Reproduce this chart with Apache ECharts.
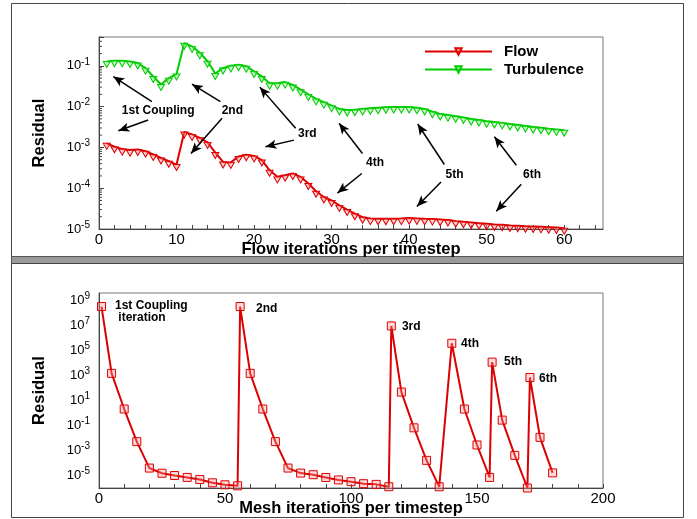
<!DOCTYPE html>
<html>
<head>
<meta charset="utf-8">
<title>Residual history</title>
<script src="https://cdn.jsdelivr.net/npm/echarts@6/dist/echarts.min.js"></script>
<style>
  html, body { margin: 0; padding: 0; background: #fff; }
  #chart { width: 697px; height: 519px; }
</style>
</head>
<body>
<div id="chart"></div>
<script>
// Flow iterations within one timestep (upper panel)
const flowIterations = [
  1, 2, 3, 4, 5, 6, 7, 8, 9, 10, 11, 12, 13, 14, 15, 16, 17, 18, 19, 20,
  21, 22, 23, 24, 25, 26, 27, 28, 29, 30, 31, 32, 33, 34, 35, 36, 37, 38, 39, 40,
  41, 42, 43, 44, 45, 46, 47, 48, 49, 50, 51, 52, 53, 54, 55, 56, 57, 58, 59, 60
];
const flowResidual = [
  1.26e-3, 1.04e-3, 9.1e-4, 8.6e-4, 8.9e-4, 8.1e-4, 6.7e-4, 5.5e-4, 4.6e-4, 3.8e-4,
  2.4e-3, 2.09e-3, 1.72e-3, 1.33e-3, 7.5e-4, 4.4e-4, 4.3e-4, 6.0e-4, 6.6e-4, 6.2e-4,
  4.9e-4, 2.75e-4, 1.9e-4, 2.09e-4, 2.3e-4, 1.9e-4, 1.3e-4, 8.4e-5, 6.1e-5, 5.0e-5,
  3.8e-5, 3.0e-5, 2.37e-5, 1.95e-5, 1.8e-5, 1.78e-5, 1.78e-5, 1.78e-5, 1.8e-5, 1.85e-5,
  1.82e-5, 1.78e-5, 1.75e-5, 1.71e-5, 1.66e-5, 1.56e-5, 1.5e-5, 1.45e-5, 1.39e-5, 1.34e-5,
  1.29e-5, 1.27e-5, 1.22e-5, 1.2e-5, 1.17e-5, 1.15e-5, 1.13e-5, 1.11e-5, 1.09e-5, 1.05e-5
];
const turbulenceResidual = [
  0.128, 0.133, 0.133, 0.128, 0.117, 0.088, 0.055, 0.035, 0.050, 0.063,
  0.36, 0.30, 0.21, 0.13, 0.065, 0.089, 0.10, 0.107, 0.098, 0.073,
  0.055, 0.0377, 0.0377, 0.040, 0.034, 0.026, 0.020, 0.0155, 0.0129, 0.0106,
  0.0088, 0.0083, 0.0084, 0.0088, 0.0091, 0.0094, 0.0097, 0.0098, 0.0098, 0.0098,
  0.0094, 0.0088, 0.0075, 0.0066, 0.0062, 0.0058, 0.0054, 0.0050, 0.0047, 0.0044,
  0.0042, 0.0040, 0.00375, 0.00355, 0.00335, 0.00316, 0.00304, 0.00288, 0.00277, 0.00263
];

// Mesh iterations over the six coupling iterations (lower panel)
const meshIterations = [
  1, 5, 10, 15, 20, 25, 30, 35, 40, 45, 50, 55,
  56, 60, 65, 70, 75, 80, 85, 90, 95, 100, 105, 110, 115,
  116, 120, 125, 130, 135,
  140, 145, 150, 155,
  156, 160, 165, 170,
  171, 175, 180
];
const meshResidual = [
  3e8, 1.4e3, 2, 5e-3, 3.9e-5, 1.5e-5, 1e-5, 7e-6, 4.8e-6, 2.6e-6, 1.8e-6, 1.5e-6,
  3e8, 1.4e3, 2, 5e-3, 3.9e-5, 1.55e-5, 1.15e-5, 6.9e-6, 4.4e-6, 3.2e-6, 2.2e-6, 1.95e-6, 1.26e-6,
  8.5e6, 45, 0.063, 1.6e-4, 1.25e-6,
  3.5e5, 2, 2.7e-3, 7e-6,
  1.1e4, 0.26, 4e-4, 1e-6,
  650, 0.011, 1.6e-5
];

// Callout labels in the upper panel: text and its centre [iteration, residual]
const upperNotes = ['1st Coupling', '2nd', '3rd', '4th', '5th', '6th'];
const upperNoteAt = [[7.63, 0.008], [17.2, 0.008], [26.87, 0.00213], [35.61, 4.27e-4], [45.86, 2.2e-4], [55.85, 2.2e-4]];
// Arrows from each label: [from, to] for the turbulence and flow curves
const upperArrows = [
  [[6.82, 0.0133], [1.85, 0.0548]], [[6.34, 0.0047], [2.5, 0.00256]],
  [[15.65, 0.0133], [11.99, 0.0356]], [[15.87, 0.00518], [11.86, 7.1e-4]],
  [[25.36, 0.00294], [20.74, 0.0301]], [[25.14, 0.00151], [21.47, 0.00104]],
  [[33.98, 7.1e-4], [30.96, 0.0039]], [[33.89, 2.29e-4], [30.75, 7.6e-5]],
  [[44.54, 3.81e-4], [41.1, 0.00375]], [[44.11, 1.42e-4], [41.0, 3.58e-5]],
  [[53.82, 3.66e-4], [51.0, 0.00182]], [[54.46, 1.25e-4], [51.23, 2.74e-5]]
];
// Labels beside the peaks in the lower panel (left edge, vertical centre)
const lowerNotes = ['1st Coupling\n iteration', '2nd', '3rd', '4th', '5th', '6th'];
const lowerNoteAt = [[6.35, 1.1e8], [62.3, 2.2e8], [120.2, 7.4e6], [143.7, 3.5e5], [160.7, 1.2e4], [174.6, 575]];

const FONT = '"Liberation Sans", Arial, Helvetica, sans-serif';
const RED = '#dd0000';
const GREEN = '#00cc00';
const AXIS = '#444';

function pow10Label(onlyOdd) {
  return function (v) {
    const e = Math.log10(v);
    const r = Math.round(e);
    if (Math.abs(e - r) > 1e-6) return '';
    if (onlyOdd && Math.abs(r % 2) !== 1) return '';
    return '{b|10}{s|' + r + '}';
  };
}
const powRich = {
  b: { fontSize: 13, lineHeight: 18, fontFamily: FONT, color: '#000', verticalAlign: 'middle' },
  s: { fontSize: 10, lineHeight: 10, fontFamily: FONT, color: '#000', verticalAlign: 'top' }
};

// Log minor ticks (2..9 in each decade) for the upper residual axis
const upperMinorTicks = [];
for (let d = -5; d <= -1; d++) {
  for (let m = 2; m <= 9; m++) {
    const v = m * Math.pow(10, d);
    if (v < 0.51) upperMinorTicks.push([0, v]);
  }
}

const chart = echarts.init(document.getElementById('chart'), null, { renderer: 'canvas' });

const axisNameStyle = { fontFamily: FONT, fontWeight: 'bold', fontSize: 16.5, color: '#000' };

chart.setOption({
  animation: false,
  backgroundColor: '#fff',
  textStyle: { fontFamily: FONT },
  graphic: [
    { type: 'rect', shape: { x: 11.5, y: 3.5, width: 672, height: 253 }, style: { fill: 'none', stroke: '#444', lineWidth: 1 }, silent: true },
    { type: 'rect', shape: { x: 11.5, y: 256.5, width: 672, height: 7 }, style: { fill: '#9a9a9a', stroke: '#555', lineWidth: 1 }, silent: true },
    { type: 'rect', shape: { x: 11.5, y: 263.5, width: 672, height: 254 }, style: { fill: 'none', stroke: '#444', lineWidth: 1 }, silent: true }
  ],
  legend: {
    data: ['Flow', 'Turbulence'],
    orient: 'vertical',
    left: 419,
    top: 39,
    itemWidth: 67,
    itemHeight: 8,
    itemGap: 3,
    textStyle: { fontFamily: FONT, fontWeight: 'bold', fontSize: 15, color: '#000', padding: [0, 0, 0, 7] },
    selectedMode: false
  },
  grid: [
    { left: 99, top: 37, width: 504, height: 192, show: true, borderColor: '#777', borderWidth: 1, backgroundColor: 'transparent' },
    { left: 99, top: 293, width: 504, height: 195, show: true, borderColor: '#777', borderWidth: 1, backgroundColor: 'transparent' }
  ],
  xAxis: [
    {
      gridIndex: 0, type: 'value', min: 0, max: 65, interval: 2,
      axisLine: { lineStyle: { color: AXIS, width: 1 } },
      axisTick: { inside: true, length: 4, lineStyle: { color: AXIS } },
      axisLabel: {
        margin: 3, fontSize: 15, color: '#000', fontFamily: FONT, showMaxLabel: false,
        formatter: v => (v % 10 === 0 ? String(v) : '')
      },
      splitLine: { show: false },
      name: 'Flow iterations per timestep', nameLocation: 'middle', nameGap: 12,
      nameMoveOverlap: false,
      nameTextStyle: axisNameStyle
    },
    {
      gridIndex: 1, type: 'value', min: 0, max: 200, interval: 10,
      axisLine: { lineStyle: { color: AXIS, width: 1 } },
      axisTick: { inside: true, length: 4, lineStyle: { color: AXIS } },
      axisLabel: {
        margin: 3, fontSize: 15, color: '#000', fontFamily: FONT,
        formatter: v => (v % 50 === 0 ? String(v) : '')
      },
      splitLine: { show: false },
      name: 'Mesh iterations per timestep', nameLocation: 'middle', nameGap: 12,
      nameMoveOverlap: false,
      nameTextStyle: axisNameStyle
    }
  ],
  yAxis: [
    {
      gridIndex: 0, type: 'log', logBase: 10, min: 1e-5, max: 0.51, interval: 1,
      axisLine: { show: true, lineStyle: { color: AXIS, width: 1 } },
      axisTick: { show: true, inside: true, length: 5, lineStyle: { color: AXIS } },
      axisLabel: { margin: 9, formatter: pow10Label(false), rich: powRich },
      splitLine: { show: false },
      name: 'Residual', nameLocation: 'middle', nameGap: 51, nameRotate: 90,
      nameMoveOverlap: false,
      nameTextStyle: axisNameStyle
    },
    {
      gridIndex: 1, type: 'log', logBase: 10, min: 1e-6, max: 3.6e9, interval: 1,
      axisLine: { show: true, lineStyle: { color: AXIS, width: 1 } },
      axisTick: { show: false },
      axisLabel: { margin: 9, interval: 0, formatter: pow10Label(true), rich: powRich },
      splitLine: { show: false },
      name: 'Residual', nameLocation: 'middle', nameGap: 51, nameRotate: 90,
      nameMoveOverlap: false,
      nameTextStyle: axisNameStyle
    }
  ],
  series: [
    {
      name: 'Flow', type: 'line', xAxisIndex: 0, yAxisIndex: 0,
      data: flowIterations.map((it, i) => [it, flowResidual[i]]),
      symbol: 'triangle', symbolSize: [7, 6], symbolRotate: 180, symbolOffset: [0, 3],
      showAllSymbol: true,
      lineStyle: { color: RED, width: 2 },
      itemStyle: { color: 'rgba(255,140,140,0.45)', borderColor: RED, borderWidth: 1 },
      z: 3,
      markLine: {
        silent: true, animation: false,
        symbol: ['none', 'arrow'], symbolSize: [7, 11],
        label: { show: false },
        lineStyle: { color: '#000', width: 1.5, type: 'solid' },
        emphasis: { disabled: true },
        data: upperArrows.map(a => [{ coord: a[0] }, { coord: a[1] }])
      },
      markPoint: {
        silent: true, animation: false,
        symbol: 'circle', symbolSize: 0,
        label: { show: true, position: 'inside', formatter: '{b}', color: '#000', fontFamily: FONT, fontWeight: 'bold', fontSize: 12 },
        data: upperNotes.map((t, i) => ({ name: t, coord: upperNoteAt[i] }))
      }
    },
    {
      name: 'Turbulence', type: 'line', xAxisIndex: 0, yAxisIndex: 0,
      data: flowIterations.map((it, i) => [it, turbulenceResidual[i]]),
      symbol: 'triangle', symbolSize: [7, 6], symbolRotate: 180, symbolOffset: [0, 3],
      showAllSymbol: true,
      lineStyle: { color: GREEN, width: 2 },
      itemStyle: { color: 'rgba(130,240,130,0.45)', borderColor: GREEN, borderWidth: 1 },
      z: 3
    },
    {
      name: 'Minor ticks', type: 'custom', xAxisIndex: 0, yAxisIndex: 0,
      silent: true, encode: { x: 0, y: 1 },
      data: upperMinorTicks,
      renderItem: function (params, api) {
        const p = api.coord([0, api.value(1)]);
        return {
          type: 'line',
          shape: { x1: p[0], y1: p[1], x2: p[0] + 3, y2: p[1] },
          style: { stroke: AXIS, lineWidth: 1 }
        };
      }
    },
    {
      name: 'Mesh', type: 'line', xAxisIndex: 1, yAxisIndex: 1,
      data: meshIterations.map((it, i) => [it, meshResidual[i]]),
      symbol: 'rect', symbolSize: 8, showAllSymbol: true,
      lineStyle: { color: RED, width: 2 },
      itemStyle: { color: 'rgba(255,150,150,0.35)', borderColor: RED, borderWidth: 1 },
      markPoint: {
        silent: true, animation: false,
        symbol: 'circle', symbolSize: 0,
        label: {
          show: true, position: [0, 0], align: 'left', verticalAlign: 'middle',
          formatter: '{b}', color: '#000', fontFamily: FONT, fontWeight: 'bold', fontSize: 12, lineHeight: 12
        },
        data: lowerNotes.map((t, i) => ({ name: t, coord: lowerNoteAt[i] }))
      }
    }
  ]
});
</script>
</body>
</html>
